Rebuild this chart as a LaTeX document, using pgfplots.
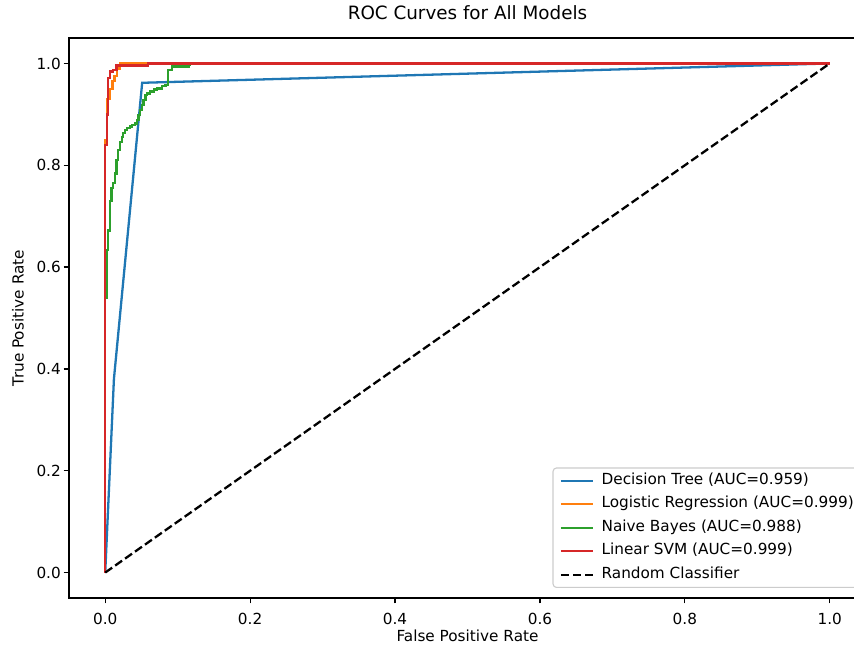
\documentclass[border=0pt]{standalone}
\usepackage{fontspec}
\setmainfont{DejaVu Sans}
\usepackage{pgfplots}
\pgfplotsset{compat=1.18}
\definecolor{c0}{HTML}{1F77B4}
\definecolor{c1}{HTML}{FF7F0E}
\definecolor{c2}{HTML}{2CA02C}
\definecolor{c3}{HTML}{D62728}
\begin{document}
\begin{tikzpicture}
\begin{axis}[
  name=ax,
  scale only axis,
  width=573.84pt, height=403.2pt,
  xmin=-0.05, xmax=1.05, ymin=-0.05, ymax=1.05,
  xtick={0,0.2,...,1.0}, ytick={0,0.2,...,1.0},
  tick pos=left, tick align=outside,
  major tick length=3.85pt,
  every tick/.style={line width=0.88pt, black},
  axis line style={line width=0.88pt},
  /pgf/number format/assume math mode=true,
  tick label style={font=\fontsize{11}{13}\selectfont},
  xticklabel style={yshift=-3.4pt, /pgf/number format/.cd, fixed, fixed zerofill, precision=1},
  yticklabel style={xshift=1.5pt, /pgf/number format/.cd, fixed, fixed zerofill, precision=1},
  title={ROC Curves for All Models},
  title style={font=\fontsize{13.2}{15}\selectfont, at={(axis description cs:0.5,1)}, anchor=base, yshift=7.2pt},
  xlabel={False Positive Rate},
  xlabel style={font=\fontsize{11}{13}\selectfont, at={(axis description cs:0.5,0)}, anchor=center, yshift=-27.4pt},
  ylabel={True Positive Rate},
  ylabel style={font=\fontsize{11}{13}\selectfont, at={(axis description cs:0,0.5)}, anchor=center, yshift=36.7pt},
  legend cell align=left,
  legend image code/.code={\draw[#1] (0pt,0pt) -- (23pt,0pt);},
  legend style={at={(axis description cs:0.9937,0.0179)}, anchor=south east,
    draw=black!20, line width=0.8pt, rounded corners=2.5pt, fill=white, fill opacity=0.8, text opacity=1,
    font=\fontsize{11}{13}\selectfont,
    nodes={inner sep=0pt, text height=0.75em, text depth=0.25em},
    row sep=6.9pt, inner xsep=4.8pt, inner ysep=4.2pt,
    /tikz/every odd column/.append style={column sep=5.5pt}},
  every axis plot/.append style={line width=1.65pt},
]
% Decision Tree
\addplot[c0] coordinates {(0,0) (0.012,0.38) (0.051,0.962) (1,1)};
\addlegendentry{Decision Tree (AUC=0.959)}
% Logistic Regression
\addplot[c1] coordinates {
  (0,0) (0,0.85) (0.002,0.85) (0.002,0.93) (0.006,0.93) (0.006,0.95)
  (0.010,0.95) (0.010,0.965) (0.013,0.965) (0.013,0.975) (0.016,0.975)
  (0.016,0.99) (0.020,0.99) (0.020,1) (1,1)};
\addlegendentry{Logistic Regression (AUC=0.999)}
% Naive Bayes
\addplot[c2] coordinates {
  (0,0) (0,0.54) (0.002,0.54) (0.002,0.634) (0.004,0.634) (0.004,0.672)
  (0.0064,0.672) (0.0064,0.73) (0.0087,0.73) (0.0087,0.755) (0.011,0.755)
  (0.011,0.765) (0.0133,0.765) (0.0133,0.784) (0.0156,0.784) (0.0156,0.81)
  (0.018,0.81) (0.018,0.83) (0.0207,0.83) (0.0207,0.846) (0.023,0.846)
  (0.023,0.856) (0.025,0.856) (0.025,0.863) (0.0276,0.863) (0.0276,0.869)
  (0.030,0.869) (0.030,0.873) (0.0345,0.873) (0.0345,0.876) (0.037,0.876)
  (0.037,0.879) (0.041,0.879) (0.041,0.882) (0.044,0.882) (0.044,0.889)
  (0.046,0.889) (0.046,0.899) (0.048,0.899) (0.048,0.909) (0.051,0.909)
  (0.051,0.918) (0.053,0.918) (0.053,0.928) (0.0555,0.928) (0.0555,0.938)
  (0.0575,0.938) (0.0575,0.941) (0.062,0.941) (0.062,0.945) (0.067,0.945)
  (0.067,0.949) (0.071,0.949) (0.071,0.951) (0.078,0.951) (0.078,0.956)
  (0.083,0.956) (0.083,0.958) (0.087,0.958) (0.087,0.987) (0.092,0.987)
  (0.092,0.994) (0.115,0.994) (0.115,0.998) (0.117,0.998) (0.117,1) (1,1)};
\addlegendentry{Naive Bayes (AUC=0.988)}
% Linear SVM
\addplot[c3] coordinates {
  (0,0) (0,0.84) (0.002,0.84) (0.002,0.90) (0.004,0.90) (0.004,0.971)
  (0.0064,0.971) (0.0064,0.984) (0.011,0.984) (0.011,0.987) (0.0156,0.987)
  (0.0156,0.996) (0.022,0.996) (0.059,0.996) (0.059,1) (1,1)};
\addlegendentry{Linear SVM (AUC=0.999)}
% Random
\addplot[black, dash pattern=on 6.1pt off 2.64pt] coordinates {(0,0) (1,1)};
\addlegendentry{Random Classifier}
\end{axis}
\pgfresetboundingbox
\path ([xshift=-49.68pt,yshift=-33.12pt]ax.south west) rectangle ([xshift=565.2pt,yshift=430.56pt]ax.south west);
\end{tikzpicture}
\end{document}
